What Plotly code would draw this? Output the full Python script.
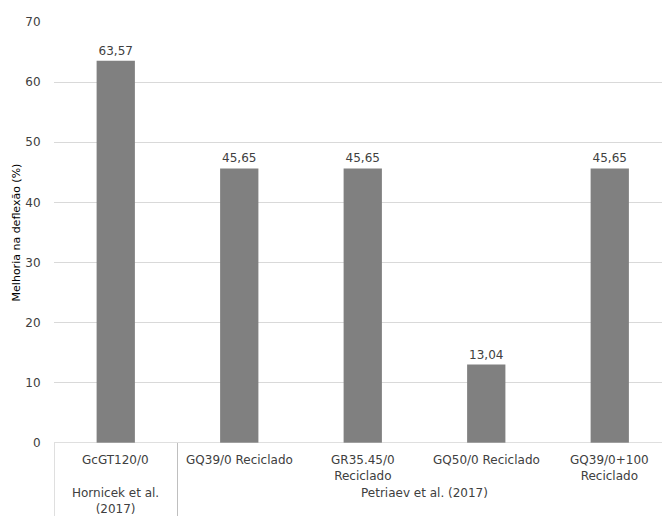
import plotly.graph_objects as go

# Data
categories = ["GcGT120/0", "GQ39/0 Reciclado", "GR35.45/0<br>Reciclado",
              "GQ50/0 Reciclado", "GQ39/0+100<br>Reciclado"]
values = [63.57, 45.65, 45.65, 13.04, 45.65]
groups = ["Hornicek et al.<br>(2017)", "Petriaev et al. (2017)"]
group_spans = [(0, 0), (1, 4)]
y_ticks = [0, 10, 20, 30, 40, 50, 60, 70]
y_title = "Melhoria na deflexão (%)"

FONT = "DejaVu Sans"
TXT = "#404040"

x = list(range(len(values)))

fig = go.Figure()
fig.add_trace(go.Bar(
    x=x, y=values, width=0.31,
    marker=dict(color="#808080", line=dict(width=0)),
    texttemplate="%{y:.2f}", textposition="outside",
    textfont=dict(family=FONT, size=12, color=TXT),
    cliponaxis=False, hoverinfo="skip",
))

annotations = []
# first-level category labels
for i, c in enumerate(categories):
    annotations.append(dict(x=i, xref="x", y=-0.02, yref="paper", text=c,
                            showarrow=False, yanchor="top", align="center",
                            font=dict(family=FONT, size=12, color=TXT)))
# group labels
for g, (a, b) in zip(groups, group_spans):
    annotations.append(dict(x=(a + b) / 2, xref="x", y=-0.098, yref="paper", text=g,
                            showarrow=False, yanchor="top", align="center",
                            font=dict(family=FONT, size=12, color=TXT)))

shapes = []
# group separators
for a, b in group_spans:
    shapes.append(dict(type="line", xref="x", yref="paper", x0=a - 0.5, x1=a - 0.5,
                       y0=0, y1=-0.18, line=dict(color="#bfbfbf", width=1)))
# baseline
shapes.append(dict(type="line", xref="paper", yref="y", x0=0, x1=1, y0=0, y1=0,
                   line=dict(color="#bfbfbf", width=1)))

fig.update_layout(
    width=662, height=516,
    margin=dict(l=54, r=0, t=22, b=73),
    paper_bgcolor="white", plot_bgcolor="white",
    separators=",.",
    showlegend=False,
    xaxis=dict(range=[-0.5, 4.423], showticklabels=False, showgrid=False,
               zeroline=False, showline=False, ticks=""),
    yaxis=dict(range=[0, 70], tickvals=y_ticks, showgrid=True, gridcolor="#d9d9d9",
               gridwidth=1, zeroline=False, showline=False,
               ticks="outside", ticklen=10, tickcolor="rgba(0,0,0,0)",
               tickfont=dict(family=FONT, size=12, color=TXT),
               title=dict(text=y_title, font=dict(family=FONT, size=11, color="#000000"),
                          standoff=2)),
    annotations=annotations,
    shapes=shapes,
)

fig.write_html("out.html")
